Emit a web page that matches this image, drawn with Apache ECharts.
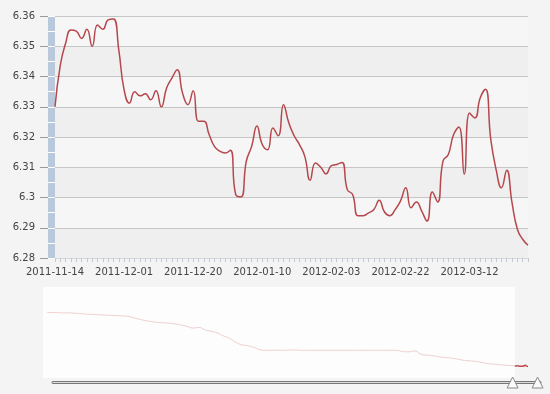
<!DOCTYPE html>
<html>
<head>
<meta charset="utf-8">
<script src="https://cdn.jsdelivr.net/npm/echarts@6/dist/echarts.min.js"></script>
<style>html,body{margin:0;padding:0;background:#f4f4f4;}#c{width:550px;height:394px;}</style>
</head>
<body>
<div id="c"></div>
<script>
// Main chart: daily rate, 2011-11-14 .. 2012-03-27
const dates = [
 '2011-11-14','2011-11-15','2011-11-16','2011-11-17','2011-11-18','2011-11-21','2011-11-22','2011-11-23','2011-11-24','2011-11-25','2011-11-28','2011-11-29','2011-11-30',
 '2011-12-01','2011-12-02','2011-12-05','2011-12-06','2011-12-07','2011-12-08','2011-12-09','2011-12-12','2011-12-13','2011-12-14','2011-12-15','2011-12-16','2011-12-19',
 '2011-12-20','2011-12-21','2011-12-22','2011-12-23','2011-12-26','2011-12-27','2011-12-28','2011-12-29','2011-12-30','2012-01-04','2012-01-05','2012-01-06','2012-01-09',
 '2012-01-10','2012-01-11','2012-01-12','2012-01-13','2012-01-16','2012-01-17','2012-01-18','2012-01-19','2012-01-20','2012-01-30','2012-01-31','2012-02-01','2012-02-02',
 '2012-02-03','2012-02-06','2012-02-07','2012-02-08','2012-02-09','2012-02-10','2012-02-13','2012-02-14','2012-02-15','2012-02-16','2012-02-17','2012-02-20','2012-02-21',
 '2012-02-22','2012-02-23','2012-02-24','2012-02-27','2012-02-28','2012-02-29','2012-03-01','2012-03-02','2012-03-05','2012-03-06','2012-03-07','2012-03-08','2012-03-09',
 '2012-03-12','2012-03-13','2012-03-14','2012-03-15','2012-03-16','2012-03-19','2012-03-20','2012-03-21','2012-03-22','2012-03-23','2012-03-26','2012-03-27'
];
const rates = [
 6.3300,6.3438,6.3510,6.3554,6.3550,6.3526,6.3556,6.3500,6.3570,6.3556,6.3587,6.3590,6.3488,
 6.3356,6.3312,6.3350,6.3336,6.3343,6.3323,6.3353,6.3300,6.3362,6.3395,6.3422,6.3345,6.3307,
 6.3353,6.3252,6.3252,6.3208,6.3169,6.3153,6.3147,6.3156,6.3010,6.3002,6.3120,6.3169,6.3236,
 6.3175,6.3158,6.3230,6.3204,6.3307,6.3246,6.3204,6.3175,6.3136,6.3057,6.3114,6.3100,6.3078,
 6.3105,6.3109,6.3116,6.3026,6.3010,6.2940,6.2940,6.2949,6.2960,6.2991,6.2952,6.2940,6.2960,
 6.2988,6.3032,6.2966,6.2985,6.2955,6.2922,6.3018,6.2985,6.3120,6.3142,6.3208,6.3233,6.3077,
 6.3279,6.3263,6.3329,6.3358,6.3191,6.3092,6.3032,6.3090,6.2982,6.2895,6.2862,6.2842
];
const yMin = 6.28, yMax = 6.36, yStep = 0.01;
const labelEvery = 13;

// Overview (navigator) history, monthly
const historyDates = [
 '2005-07-21','2005-08-01','2005-09-01','2005-10-01','2005-11-01','2005-12-01',
 '2006-01-01','2006-02-01','2006-03-01','2006-04-01','2006-05-01','2006-06-01','2006-07-01','2006-08-01','2006-09-01','2006-10-01','2006-11-01','2006-12-01',
 '2007-01-01','2007-02-01','2007-03-01','2007-04-01','2007-05-01','2007-06-01','2007-07-01','2007-08-01','2007-09-01','2007-10-01','2007-11-01','2007-12-01',
 '2008-01-01','2008-02-01','2008-03-01','2008-04-01','2008-05-01','2008-06-01','2008-07-01','2008-08-01','2008-09-01','2008-10-01','2008-11-01','2008-12-01',
 '2009-01-01','2009-02-01','2009-03-01','2009-04-01','2009-05-01','2009-06-01','2009-07-01','2009-08-01','2009-09-01','2009-10-01','2009-11-01','2009-12-01',
 '2010-01-01','2010-02-01','2010-03-01','2010-04-01','2010-05-01','2010-06-01','2010-07-01','2010-08-01','2010-09-01','2010-10-01','2010-11-01','2010-12-01',
 '2011-01-01','2011-02-01','2011-03-01','2011-04-01','2011-05-01','2011-06-01','2011-07-01','2011-08-01','2011-09-01','2011-10-01','2011-11-01','2011-12-01',
 '2012-01-01'
];
const historyRates = [
 8.11,8.10,8.10,8.09,8.09,8.08,
 8.07,8.05,8.04,8.03,8.02,8.01,8.00,7.99,7.98,7.93,7.88,7.83,
 7.80,7.77,7.76,7.74,7.72,7.68,7.64,7.58,7.60,7.52,7.47,7.42,
 7.32,7.24,7.12,7.02,6.99,6.94,6.86,6.83,6.83,6.84,6.83,6.84,
 6.84,6.83,6.83,6.83,6.83,6.83,6.83,6.83,6.83,6.83,6.83,6.83,
 6.83,6.83,6.83,6.83,6.83,6.83,6.79,6.78,6.81,6.70,6.67,6.65,
 6.61,6.59,6.57,6.54,6.50,6.48,6.46,6.43,6.39,6.37,6.35,6.33,
 6.32
];
const overviewStart = '2005-07-01';
const windowStartIndex = 47;
const sliderStart = 93.9, sliderEnd = 99.4;

function parseDate(s){ const p = s.split('-').map(Number); return new Date(p[0], p[1]-1, p[2]).getTime(); }

const font = 'DejaVu Sans';
const pinkData = historyDates.map((d,i)=>[parseDate(d), historyRates[i]]).concat([[parseDate(dates[windowStartIndex]), rates[windowStartIndex]]]);
const redData = dates.slice(windowStartIndex).map((d,i)=>[parseDate(d), rates[windowStartIndex+i]]);

const chart = echarts.init(document.getElementById('c'), null, {renderer:'canvas'});
chart.setOption({
  backgroundColor: '#f4f4f4',
  animation: false,
  grid: [
    {left: 55, right: 22, top: 16, height: 242},
    {left: 43, right: 22, top: 287, height: 91}
  ],
  xAxis: [
    {type:'category', gridIndex:0, data: dates, boundaryGap:false, position:'bottom',
     axisLine:{show:true, lineStyle:{color:'#d3d9e0', width:1}},
     axisTick:{show:true, interval:0, length:4, lineStyle:{color:'#c2c9d1'}},
     axisLabel:{interval: labelEvery-1, margin:9, color:'#444', fontSize:10, fontFamily:font, hideOverlap:false},
     splitLine:{show:false}},
    {type:'time', gridIndex:1, position:'bottom', min: parseDate(overviewStart), max: parseDate(dates[dates.length-1]), show:false},
    {type:'value', gridIndex:1, position:'bottom', min:0, max:100, show:false}
  ],
  yAxis: [
    {type:'value', gridIndex:0, position:'left', min:yMin, max:yMax, interval:yStep, offset:7,
     axisLine:{show:false},
     axisTick:{show:true, length:8, lineStyle:{color:'#9a9a9a'}},
     axisLabel:{margin:13, color:'#444', fontSize:10, fontFamily:font},
     splitLine:{show:true, lineStyle:{color:'#c6c6c6', width:1}},
     splitArea:{show:true, areaStyle:{color:['#efefef','#f6f6f6']}}},
    {type:'value', gridIndex:0, position:'left', min:yMin, max:yMax, offset:3.5,
     axisLine:{show:true, lineStyle:{color:'#b9c9db', width:7, cap:'butt'}},
     axisTick:{show:false}, axisLabel:{show:false}, splitLine:{show:false}, splitArea:{show:false}},
    {type:'value', gridIndex:0, position:'left', min:yMin, max:yMax, interval:yStep/2, offset:7,
     axisLine:{show:false},
     axisTick:{show:true, inside:true, length:7, lineStyle:{color:'#ffffff', width:1}},
     axisLabel:{show:false}, splitLine:{show:false}, splitArea:{show:false}},
    {type:'value', gridIndex:1, position:'left', min:5.9, max:8.96, show:false},
    {type:'value', gridIndex:1, position:'left', min:-1, max:1, show:false}
  ],
  dataZoom: [{
    type:'slider', xAxisIndex:2, start:sliderStart, end:sliderEnd,
    left:50, right:10, top:381, height:3,
    showDataShadow:false, showDetail:false, brushSelect:false, zoomLock:true,
    moveHandleSize:0, moveHandleStyle:{opacity:0},
    backgroundColor:'#dcdcdc', borderColor:'#777', borderRadius:1,
    fillerColor:'rgba(0,0,0,0)',
    handleIcon:'path://M0,0 L10,0 L5,10 Z', handleSize:11,
    handleStyle:{color:'#fafafa', borderColor:'#8a8a8a', borderWidth:1},
    emphasis:{handleStyle:{color:'#fafafa', borderColor:'#8a8a8a'}, moveHandleStyle:{opacity:0}}
  }],
  series: [
    {type:'line', name:'rate', xAxisIndex:0, yAxisIndex:0, data: rates, smooth:true, symbol:'none',
     lineStyle:{color:'#b5474d', width:1.5}, itemStyle:{color:'#b5474d'}, silent:true, z:5},
    {type:'line', name:'history', xAxisIndex:1, yAxisIndex:3, data: pinkData, smooth:true, symbol:'none',
     lineStyle:{color:'#f0cfd0', width:1}, silent:true, z:3,
     markArea:{silent:true, label:{show:false}, itemStyle:{color:'#fdfdfd', borderWidth:0},
       data:[[{xAxis: parseDate(overviewStart)}, {xAxis: parseDate(dates[windowStartIndex])}]]}},
    {type:'line', name:'window', xAxisIndex:1, yAxisIndex:3, data: redData, smooth:true, symbol:'none',
     lineStyle:{color:'#c04a50', width:1.5}, silent:true, z:4},
    {type:'line', name:'nav', xAxisIndex:2, yAxisIndex:4, data:[[0,0],[100,0]], symbol:'none',
     lineStyle:{opacity:0}, silent:true}
  ]
});
</script>
</body>
</html>
